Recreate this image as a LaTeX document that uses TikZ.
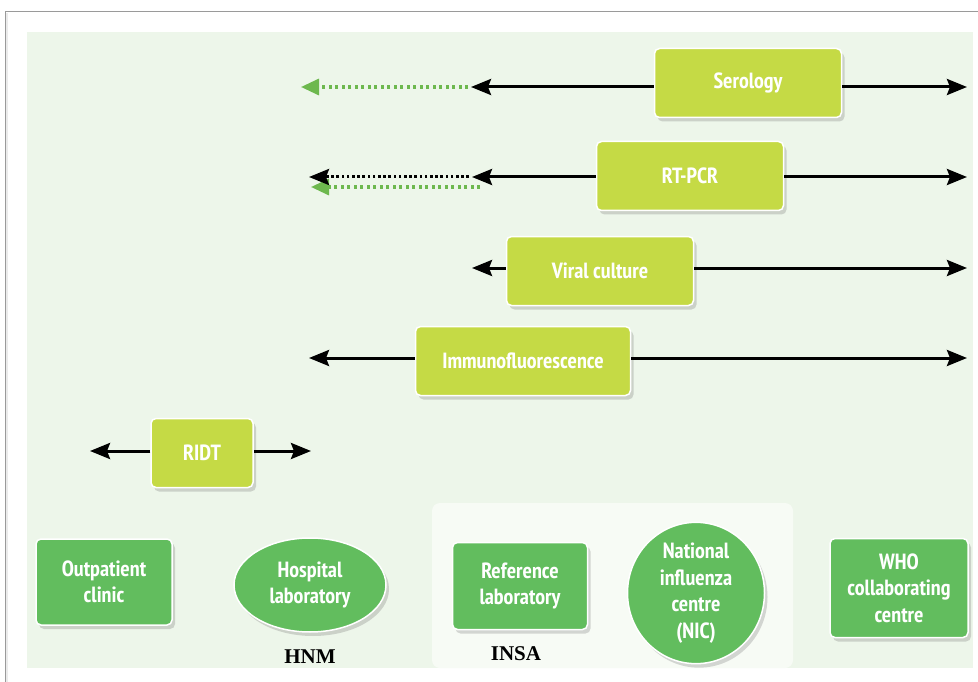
\documentclass[tikz,border=0pt]{standalone}
\usepackage{fontspec}
\newfontfamily\labelfont{PT Sans Narrow}
\newfontfamily\tagfont{Liberation Serif}
\usetikzlibrary{arrows.meta,shadows,shapes.geometric}
\definecolor{panelgreen}{HTML}{EDF6EA}
\definecolor{innerpanel}{HTML}{F7FBF5}
\definecolor{testfill}{HTML}{C5DA45}
\definecolor{sitefill}{HTML}{62BD5E}
\definecolor{dotgreen}{HTML}{6DB84E}
\definecolor{framegray}{HTML}{9A9A9A}
\tikzset{
  softshadow/.style={drop shadow={shadow xshift=3pt, shadow yshift=-4pt, opacity=0.25, fill=black!60}},
  testbox/.style={rectangle, rounded corners=5pt, fill=testfill, draw=white, line width=1.5pt,
    softshadow, text=white, font=\labelfont\bfseries\fontsize{22}{24}\selectfont,
    minimum width=187pt, minimum height=69pt, inner sep=0pt},
  sitebox/.style={rectangle, rounded corners=5pt, fill=sitefill, draw=white, line width=1.5pt,
    softshadow, text=white, align=center, font=\labelfont\bfseries\fontsize{22}{26.5}\selectfont,
    inner sep=0pt},
  siteround/.style={ellipse, fill=sitefill, draw=white, line width=1.5pt,
    softshadow, text=white, align=center, font=\labelfont\bfseries\fontsize{22}{26.5}\selectfont,
    inner sep=0pt},
  blk/.style={-{Stealth[length=20pt,width=16pt,inset=3pt]}, line width=3pt, black},
  blkdot/.style={-{Stealth[length=20pt,width=16pt,inset=3pt]}, line width=3pt, black,
    dash pattern=on 2.6pt off 2.6pt},
  grndot/.style={-{Triangle[length=18pt,width=16pt]}, line width=3.2pt, dotgreen,
    dash pattern=on 3pt off 3.5pt},
  tag/.style={font=\tagfont\bfseries\fontsize{21}{23}\selectfont, text=black}
}
\begin{document}
\begin{tikzpicture}[x=1pt,y=-1pt]
\useasboundingbox (0,0) rectangle (978,682);
\fill[white] (0,0) rectangle (978,682);
% page frame
\draw[framegray, line width=1pt] (5,682) -- (5,12) -- (978,12);
\fill[black!8] (6,13) rectangle (8,682);
% background panels
\fill[panelgreen] (27,32) rectangle (973,668);
\fill[innerpanel, rounded corners=8pt] (432,668) -- (432,503) -- (793,503) -- (793,668) -- cycle;

% diagnostic tests
\node[testbox] (sero) at (748,83) {Serology};
\node[testbox] (pcr) at (690,176) {RT-PCR};
\node[testbox] (cult) at (600,271) {Viral culture};
\node[testbox, minimum width=215pt] (ifa) at (523,361) {Immunofluorescence};
\node[testbox, minimum width=102pt] (ridt) at (202,453) {RIDT};

% free ends of the connectors
\coordinate (seroL) at (471,87);  \coordinate (seroLL) at (301,87);  \coordinate (seroR) at (967,87);
\coordinate (pcrL) at (472,177);  \coordinate (pcrLL) at (309,177);  \coordinate (pcrR) at (967,177);
\coordinate (pcrG) at (480,187);  \coordinate (pcrGL) at (311,187);
\coordinate (cultL) at (472,268); \coordinate (cultR) at (967,268);
\coordinate (ifaL) at (309,358);  \coordinate (ifaR) at (967,358);
\coordinate (ridtL) at (90,451);  \coordinate (ridtR) at (311,451);

\draw[blk] (sero.west |- seroL) -- (seroL);
\draw[grndot] ([xshift=-3pt]seroL) -- (seroLL);
\draw[blk] (sero.east |- seroR) -- (seroR);

\draw[grndot] (pcrG) -- (pcrGL);
\draw[blk] (pcr.west |- pcrL) -- (pcrL);
\draw[blkdot] ([xshift=-3pt]pcrL) -- (pcrLL);
\draw[blk] (pcr.east |- pcrR) -- (pcrR);

\draw[blk] (cult.west |- cultL) -- (cultL);
\draw[blk] (cult.east |- cultR) -- (cultR);

\draw[blk] (ifa.west |- ifaL) -- (ifaL);
\draw[blk] (ifa.east |- ifaR) -- (ifaR);

\draw[blk] (ridt.west |- ridtL) -- (ridtL);
\draw[blk] (ridt.east |- ridtR) -- (ridtR);

% levels of the laboratory network
\node[sitebox, minimum width=136pt, minimum height=86pt] (opc) at (104,582) {Outpatient\\clinic};
\node[siteround, minimum width=152pt, minimum height=94pt] (hosp) at (310,585) {Hospital\\laboratory};
\node[sitebox, minimum width=135pt, minimum height=87pt] (ref) at (520,586) {Reference\\laboratory};
\node[siteround, minimum width=137pt, minimum height=137pt] (nic) at (696,593) {National\\influenza\\centre\\(NIC)};
\node[sitebox, minimum width=138pt, minimum height=99pt] (who) at (899,588) {WHO\\collaborating\\centre};

\node[tag] (hnm) at (310,657) {HNM};
\node[tag] (insa) at (516,654) {INSA};
\end{tikzpicture}
\end{document}
